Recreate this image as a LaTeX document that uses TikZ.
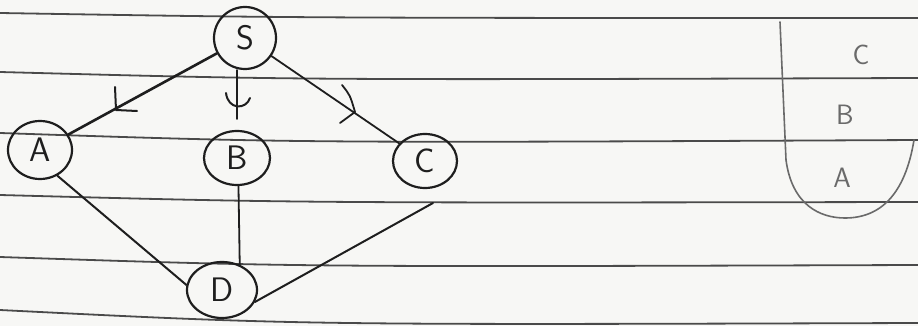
\documentclass[tikz,border=0pt]{standalone}
\usetikzlibrary{shapes.geometric}
\definecolor{inkc}{HTML}{1E1E1E}
\definecolor{rulec}{HTML}{4A4A4A}
\definecolor{pencilc}{HTML}{6A6A6A}
\definecolor{paperc}{HTML}{F7F7F5}
\begin{document}
\begin{tikzpicture}[x=1pt,y=-1pt,
  ink/.style={draw=inkc, line width=2pt, line cap=round, line join=round},
  vert/.style={ellipse, draw=inkc, line width=2.2pt, inner sep=0pt,
    font=\sffamily\fontsize{34}{40}\selectfont, text=inkc},
  rule/.style={draw=rulec, line width=1.8pt},
  pencil/.style={draw=pencilc, line width=1.6pt, line cap=round},
  stacklbl/.style={font=\sffamily\fontsize{28}{32}\selectfont, text=pencilc}]
\fill[paperc] (0,0) rectangle (918,326);
\useasboundingbox (0,0) rectangle (918,326);
% ruled paper lines
\draw[rule] (0,13) .. controls (300,18) .. (918,18);
\draw[rule] (0,72) .. controls (300,80) .. (918,78);
\draw[rule] (0,133) .. controls (300,143) .. (918,140);
\draw[rule] (0,195) .. controls (300,203) .. (918,202);
\draw[rule] (0,257) .. controls (300,267) .. (918,265);
\draw[rule] (0,310) .. controls (300,325) .. (918,323);
% vertices
\node[vert, minimum width=62pt, minimum height=62pt] (S) at (245,38) {S};
\node[vert, minimum width=64pt, minimum height=58pt] (A) at (40,150) {A};
\node[vert, minimum width=66pt, minimum height=54pt] (B) at (237,158) {B};
\node[vert, minimum width=64pt, minimum height=54pt] (C) at (425,161) {C};
\node[vert, minimum width=70pt, minimum height=56pt] (D) at (222,290) {D};
\coordinate (cend) at (433,203);
% edges
\draw[ink, line width=2.6pt] (S) -- (A);
\draw[ink, shorten >=11pt] (B.north |- S.south) -- (B.north);
\draw[ink, line width=1.8pt] (S) -- (C);
\draw[ink] (A.-56) -- (D.172);
\draw[ink, line width=1.8pt] (B.-87) -- (D.55);
\draw[ink] (D.-20) -- (cend);
% hand-drawn direction marks
\draw[ink] (115,87) -- (116,110) -- (137,111);
\draw[ink] (226,93) .. controls (228,110) and (246,110) .. (250,98);
\draw[ink, line width=1.8pt] (342,85) .. controls (350,95) .. (355,112) -- (340,123);
% stack
\draw[pencil] (780,22) -- (786,160) .. controls (792,205) and (820,218) .. (845,218)
  .. controls (880,218) and (905,195) .. (914,140);
\node[stacklbl] (sc) at (861,55) {C};
\node[stacklbl] (sb) at (845,115) {B};
\node[stacklbl] (sa) at (842,178) {A};
\end{tikzpicture}
\end{document}
